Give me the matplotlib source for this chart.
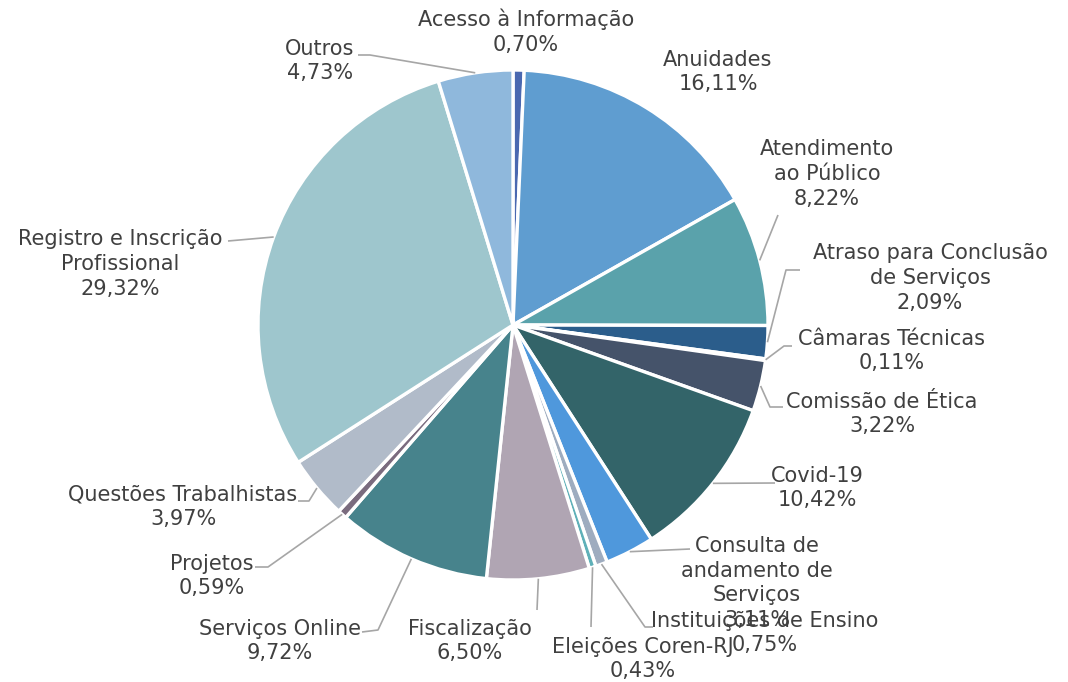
import matplotlib
matplotlib.use("Agg")
import matplotlib.pyplot as plt
import numpy as np

categories = ["Acesso à Informação", "Anuidades", "Atendimento\nao Público",
              "Atraso para Conclusão\nde Serviços", "Câmaras Técnicas", "Comissão de Ética",
              "Covid-19", "Consulta de\nandamento de\nServiços", "Instituições de Ensino",
              "Eleições Coren-RJ", "Fiscalização", "Serviços Online", "Projetos",
              "Questões Trabalhistas", "Registro e Inscrição\nProfissional", "Outros"]
values = [0.70, 16.11, 8.22, 2.09, 0.11, 3.22, 10.42, 3.11, 0.75, 0.43, 6.50, 9.72,
          0.59, 3.97, 29.32, 4.73]
pct_labels = ["0,70%", "16,11%", "8,22%", "2,09%", "0,11%", "3,22%", "10,42%", "3,11%",
              "0,75%", "0,43%", "6,50%", "9,72%", "0,59%", "3,97%", "29,32%", "4,73%"]
colors = ["#4a68b0", "#5f9dd0", "#5aa2ab", "#2b5d8b", "#6d8fb5", "#45536a", "#336469",
          "#4f98dc", "#9eacbf", "#5fb0b8", "#b0a5b3", "#47838c", "#7a6b7e", "#b1bbc9",
          "#9ec6cd", "#8fb8dc"]

W, H = 1068, 682
fig = plt.figure(figsize=(W / 100, H / 100), dpi=100)
ax = fig.add_axes([0, 0, 1, 1])

cx, cy, R = 513, 325, 255
ax.pie(values, colors=colors, startangle=90, counterclock=False,
       center=(cx, H - cy), radius=R,
       wedgeprops=dict(edgecolor="white", linewidth=2.4), frame=True)
ax.set_xlim(0, W)
ax.set_ylim(0, H)
ax.set_aspect("equal")
ax.axis("off")

# label layout (pixel coords, y from top): text center, leader path after wedge edge
label_pos = [(526, 32), (718, 72), (827, 174), (930, 278), (892, 351), (882, 414),
             (817, 488), (757, 583), (765, 633), (643, 659), (470, 641), (280, 641),
             (212, 576), (183, 507), (120, 264), (320, 61)]
leader = [None, None, [(778, 215)], [(786, 270), (800, 270)], [(784, 346), (792, 346)],
          [(770, 407), (783, 407)], [(775, 483)], [(690, 549)],
          [(645, 627), (653, 627)], [(591, 627)], [(537, 610)],
          [(378, 630), (362, 632)], [(268, 567), (255, 567)],
          [(309, 501), (298, 501)], [(228, 241)], [(370, 55), (358, 55)]]

total = sum(values)
cum = 0
for i, v in enumerate(values):
    mid = 90 - (cum + v / 2) / total * 360
    cum += v
    if leader[i] is not None:
        sx = cx + R * np.cos(np.radians(mid))
        sy = cy - R * np.sin(np.radians(mid))
        pts = [(sx, sy)] + leader[i]
        ax.plot([p[0] for p in pts], [H - p[1] for p in pts], color="#a6a6a6", lw=1.2,
                solid_capstyle="butt")
    tx, ty = label_pos[i]
    ax.text(tx, H - ty, categories[i] + "\n" + pct_labels[i], ha="center", va="center",
            fontsize=15, color="#404040", linespacing=1.3, family="DejaVu Sans")

fig.savefig("out.png", dpi=100)
